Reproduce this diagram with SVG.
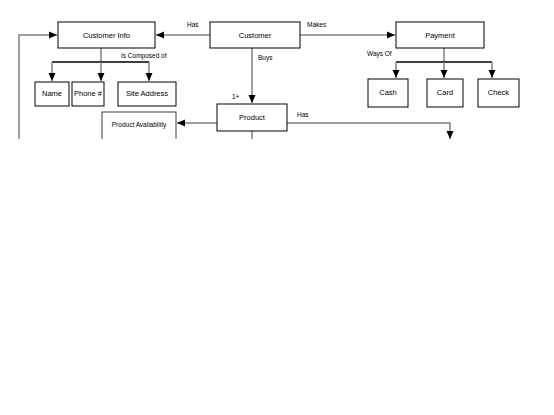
<svg xmlns="http://www.w3.org/2000/svg" width="554" height="415" viewBox="0 0 554 415">
<style>
.box{fill:#fff;stroke:#000;stroke-width:1}
.t{font-family:"Liberation Sans",Arial,sans-serif;font-size:7.5px;fill:#000;text-anchor:middle}
.l{font-family:"Liberation Sans",Arial,sans-serif;font-size:6.5px;fill:#000}
.c{fill:none;stroke:#808080;stroke-width:1.5}
.b{fill:none;stroke:#000;stroke-width:1.5}
</style>
<defs>
<marker id="ah" markerUnits="userSpaceOnUse" markerWidth="10" markerHeight="10" refX="8" refY="4" orient="auto">
<path d="M0,0.5 L8,4 L0,7.5 Z" fill="#000"/>
</marker>
<clipPath id="cut"><rect x="0" y="0" width="554" height="139"/></clipPath>
</defs>
<rect width="554" height="415" fill="#fff"/>
<g clip-path="url(#cut)">
<g id="connectors">
<path class="c" d="M210,35 H156" marker-end="url(#ah)"/>
<path class="c" d="M300,35 H395" marker-end="url(#ah)"/>
<path class="c" d="M19,139 V35 H57" marker-end="url(#ah)"/>
<path class="c" d="M252,48 V103" marker-end="url(#ah)"/>
<path class="c" d="M217,123 H177" marker-end="url(#ah)"/>
<path class="c" d="M287,123 H450 V139" marker-end="url(#ah)"/>
<path class="c" d="M252,131 V139"/>
<path class="c" d="M101,48 V62"/>
<path class="b" d="M52,62 H149"/>
<path class="c" d="M52,62 V81" marker-end="url(#ah)"/>
<path class="c" d="M101,62 V81" marker-end="url(#ah)"/>
<path class="c" d="M149,62 V81" marker-end="url(#ah)"/>
<path class="c" d="M444,48 V62"/>
<path class="b" d="M396,62 H492"/>
<path class="c" d="M396,62 V78" marker-end="url(#ah)"/>
<path class="c" d="M444,62 V78" marker-end="url(#ah)"/>
<path class="c" d="M492,62 V78" marker-end="url(#ah)"/>
<text class="l" x="187" y="27">Has</text>
<text class="l" x="307" y="27">Makes</text>
<text class="l" x="121" y="58">Is Composed of</text>
<text class="l" x="258" y="60">Buys</text>
<text class="l" x="232" y="99">1+</text>
<text class="l" x="297" y="117">Has</text>
<text class="l" x="367" y="56">Ways Of</text>
</g>
<g id="customer-info"><rect class="box" x="58" y="22" width="97" height="26"/><text class="t" x="106.5" y="38">Customer Info</text></g>
<g id="customer"><rect class="box" x="210" y="22" width="90" height="26"/><text class="t" x="255" y="38">Customer</text></g>
<g id="payment"><rect class="box" x="396" y="22" width="88" height="26"/><text class="t" x="440" y="38">Payment</text></g>
<g id="name"><rect class="box" x="35" y="82" width="34" height="24"/><text class="t" x="52" y="96">Name</text></g>
<g id="phone"><rect class="box" x="72" y="82" width="32" height="24"/><text class="t" x="88" y="96">Phone #</text></g>
<g id="site-address"><rect class="box" x="118" y="82" width="58" height="24"/><text class="t" x="147" y="96">Site Address</text></g>
<g id="cash"><rect class="box" x="368" y="79" width="40" height="28"/><text class="t" x="388" y="95">Cash</text></g>
<g id="card"><rect class="box" x="427" y="79" width="36" height="28"/><text class="t" x="445" y="95">Card</text></g>
<g id="check"><rect class="box" x="478" y="79" width="41" height="28"/><text class="t" x="498.5" y="95">Check</text></g>
<g id="product"><rect class="box" x="217" y="104" width="70" height="27"/><text class="t" x="252" y="120">Product</text></g>
<g id="product-availability"><rect class="box" x="102" y="112" width="74" height="60" style="stroke:#404040"/><text class="t" x="139" y="127" style="font-size:6.5px">Product Availability</text></g>
</g>
</svg>
